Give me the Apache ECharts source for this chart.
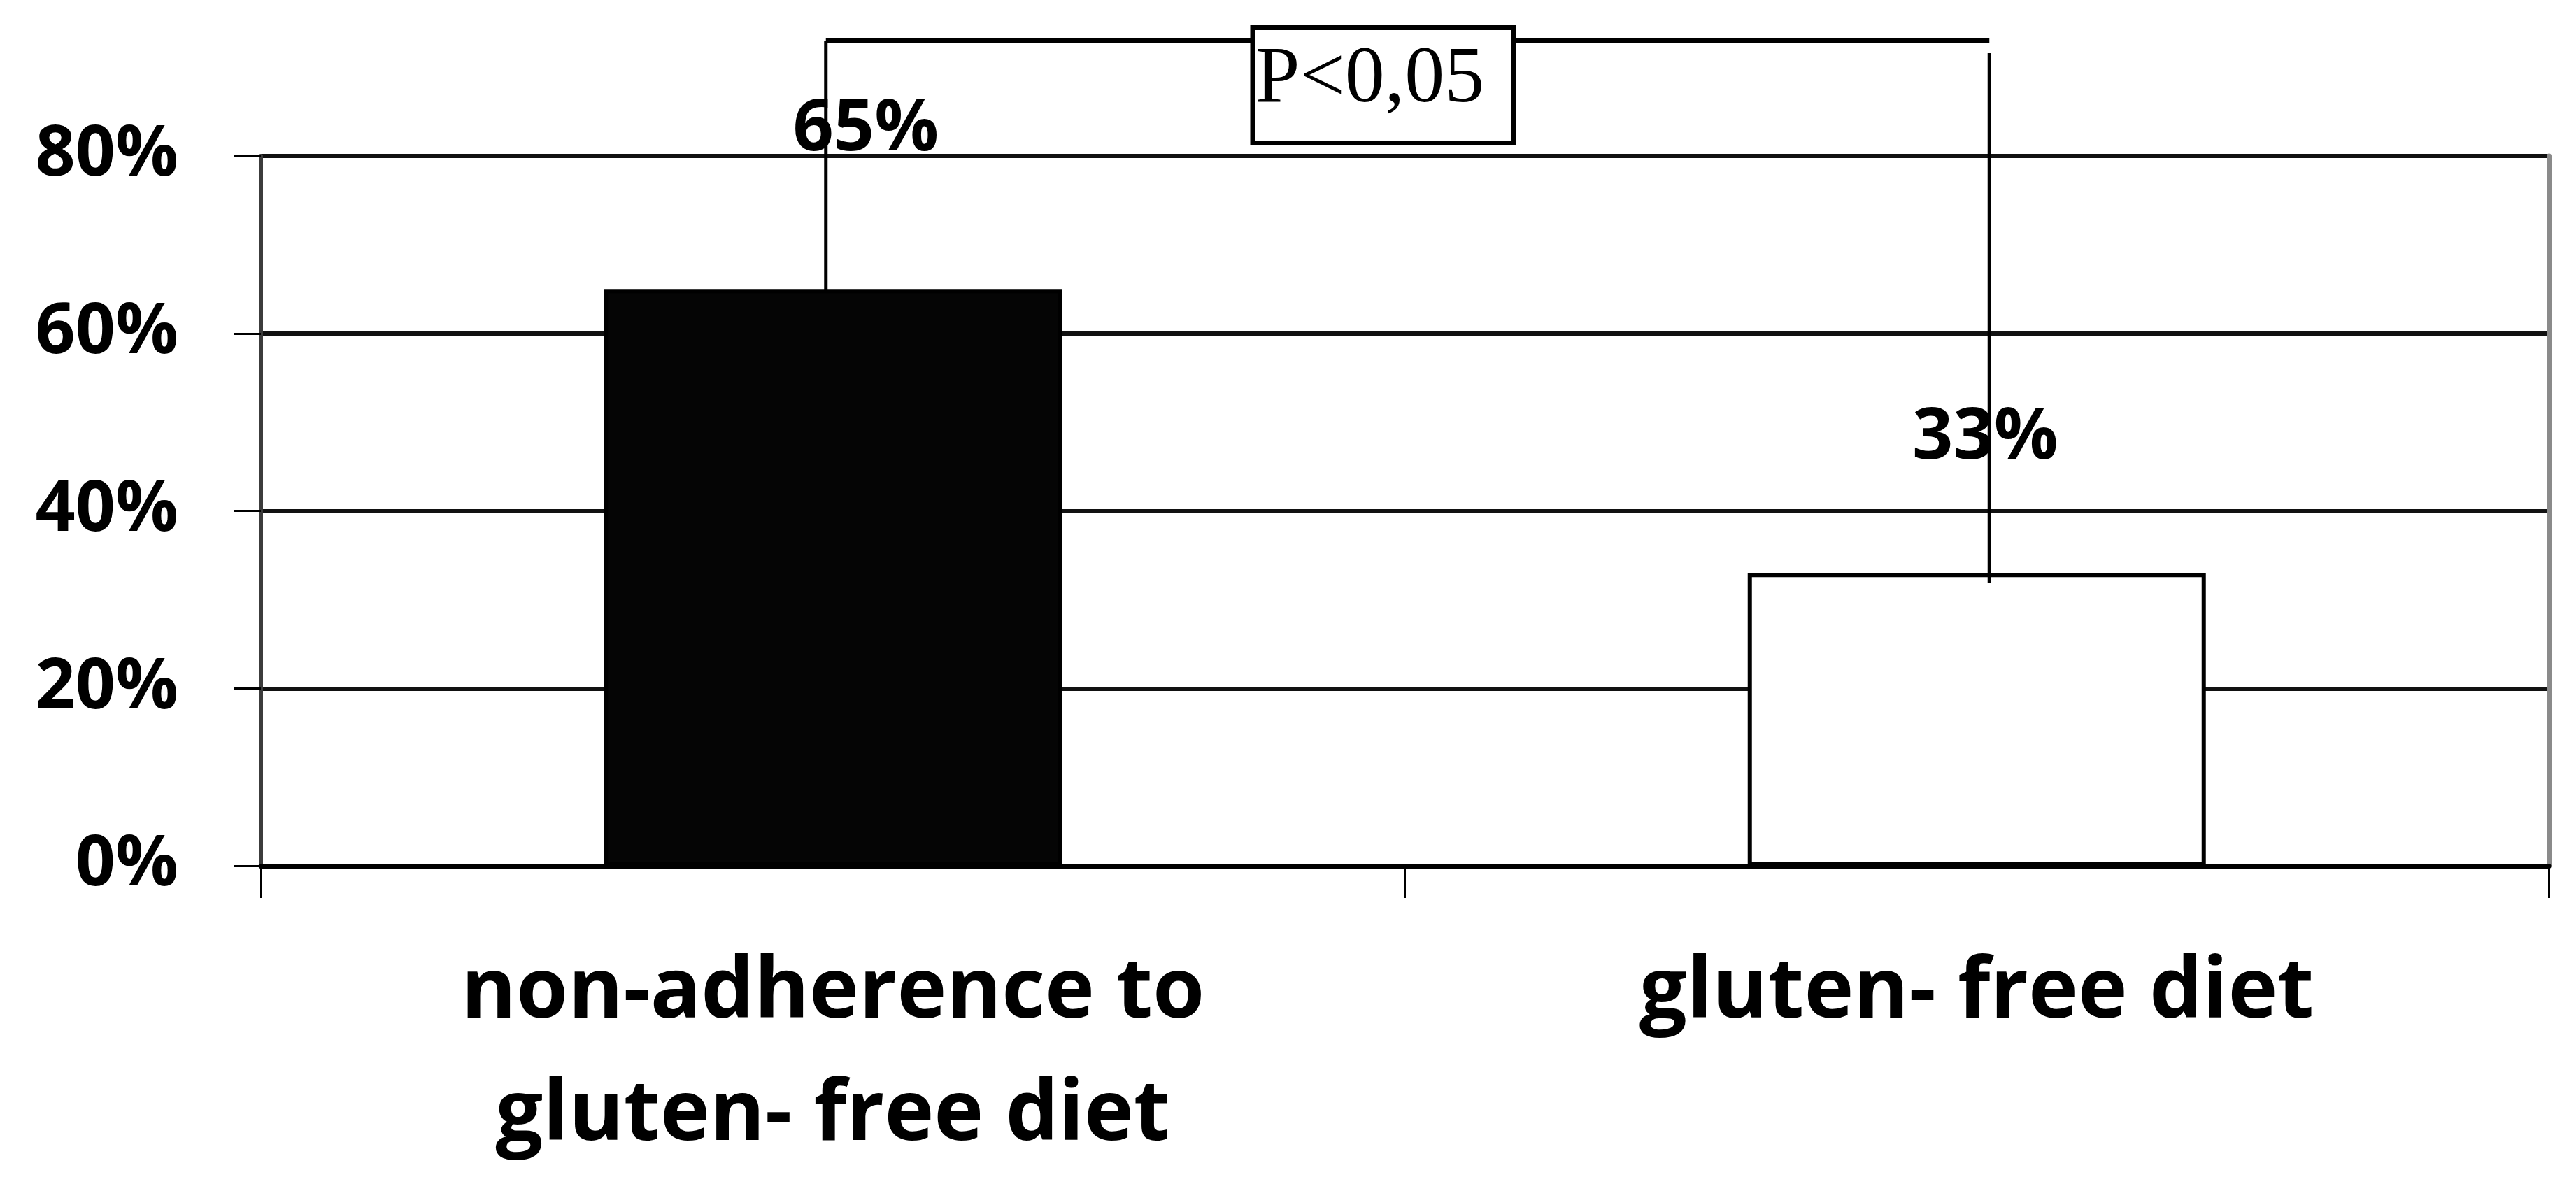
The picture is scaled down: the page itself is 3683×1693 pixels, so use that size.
<!DOCTYPE html>
<html>
<head>
<meta charset="utf-8">
<script src="https://cdn.jsdelivr.net/npm/echarts@6/dist/echarts.min.js"></script>
<style>
  html, body { margin: 0; padding: 0; background: #ffffff; }
  #chart { width: 3683px; height: 1693px; }
</style>
</head>
<body>
<div id="chart"></div>
<script>
// ---- data ----
const categories = ['non-adherence to\ngluten- free diet', 'gluten- free diet'];
const values = [65, 33];
const yTicks = [0, 20, 40, 60, 80];
const barFills = ['#050505', '#ffffff'];
const bracketFrom = 0;
const bracketTo = 1;
const bracketLevel = 93;       // value level of the comparison bracket
const bracketText = 'P<0,05';

const chart = echarts.init(document.getElementById('chart'));

const option = {
  animation: false,
  backgroundColor: '#ffffff',
  grid: { left: 373, right: 39, top: 223, bottom: 455, containLabel: false },
  xAxis: {
    type: 'category',
    data: categories,
    boundaryGap: true,
    axisLine: { show: true, lineStyle: { color: '#000', width: 7 } },
    axisTick: { show: true, length: 46, lineStyle: { color: '#000', width: 3 } },
    axisLabel: {
      interval: 0,
      margin: 95,
      fontFamily: 'Open Sans',
      fontWeight: 'bold',
      fontSize: 120,
      lineHeight: 175,
      color: '#000'
    }
  },
  yAxis: [
    {
      type: 'value',
      min: yTicks[0],
      max: yTicks[yTicks.length - 1],
      interval: yTicks[1] - yTicks[0],
      axisLine: { show: true, lineStyle: { color: '#3c3c3c', width: 6 } },
      axisTick: { show: true, length: 39, lineStyle: { color: '#000', width: 3 } },
      splitLine: { show: true, lineStyle: { color: '#111', width: 6 } },
      axisLabel: {
        margin: 118,
        formatter: '{value}%',
        fontFamily: 'Open Sans',
        fontWeight: 'bold',
        fontSize: 100,
        color: '#000'
      }
    },
    {
      type: 'value',
      position: 'right',
      min: yTicks[0],
      max: yTicks[yTicks.length - 1],
      interval: yTicks[1] - yTicks[0],
      axisLine: { show: true, lineStyle: { color: '#8a8a8a', width: 7 } },
      axisTick: { show: false },
      splitLine: { show: false },
      axisLabel: { show: false }
    }
  ],
  series: [
    {
      type: 'bar',
      barWidth: 655,
      data: values.map((v, i) => ({
        value: v,
        itemStyle: { color: barFills[i], borderColor: '#000', borderWidth: 6 },
        label: { offset: i === 0 ? [47, -171] : [12, -136] }
      })),
      label: {
        show: true,
        position: 'top',
        distance: 5,
        formatter: '{c}%',
        fontFamily: 'Open Sans',
        fontWeight: 'bold',
        fontSize: 102,
        color: '#000'
      },
      z: 2
    }
  ]
};

chart.setOption(option);

// ---- comparison bracket, positioned through the chart's own scales ----
const pTop = chart.convertToPixel({ xAxisIndex: 0, yAxisIndex: 0 }, [bracketFrom, bracketLevel]);
const pA = chart.convertToPixel({ xAxisIndex: 0, yAxisIndex: 0 }, [bracketFrom, values[bracketFrom]]);
const pB = chart.convertToPixel({ xAxisIndex: 0, yAxisIndex: 0 }, [bracketTo, values[bracketTo]]);
const xL = pA[0] - 10;
const xR = pB[0] + 18;
const yTop = pTop[1];
const midX = (xL + xR) / 2 - 35;
const boxW = 373, boxH = 165;

chart.setOption({
  graphic: [
    { type: 'line', z: 10, shape: { x1: xL, y1: yTop, x2: xR, y2: yTop }, style: { stroke: '#000', lineWidth: 6 } },
    { type: 'line', z: 10, shape: { x1: xL, y1: yTop, x2: xL, y2: pA[1] + 2 }, style: { stroke: '#000', lineWidth: 5 } },
    { type: 'line', z: 10, shape: { x1: xR, y1: yTop + 18, x2: xR, y2: pB[1] + 14 }, style: { stroke: '#000', lineWidth: 5 } },
    { type: 'rect', z: 11, shape: { x: midX - boxW / 2, y: yTop - 18.5, width: boxW, height: boxH },
      style: { fill: '#fff', stroke: '#000', lineWidth: 7 } },
    { type: 'text', z: 12, x: midX - boxW / 2 + 4, y: yTop + 57,
      style: { text: bracketText, fontFamily: 'Liberation Serif', fontSize: 114, fill: '#000',
               textAlign: 'left', textVerticalAlign: 'middle' } }
  ]
});
</script>
</body>
</html>
